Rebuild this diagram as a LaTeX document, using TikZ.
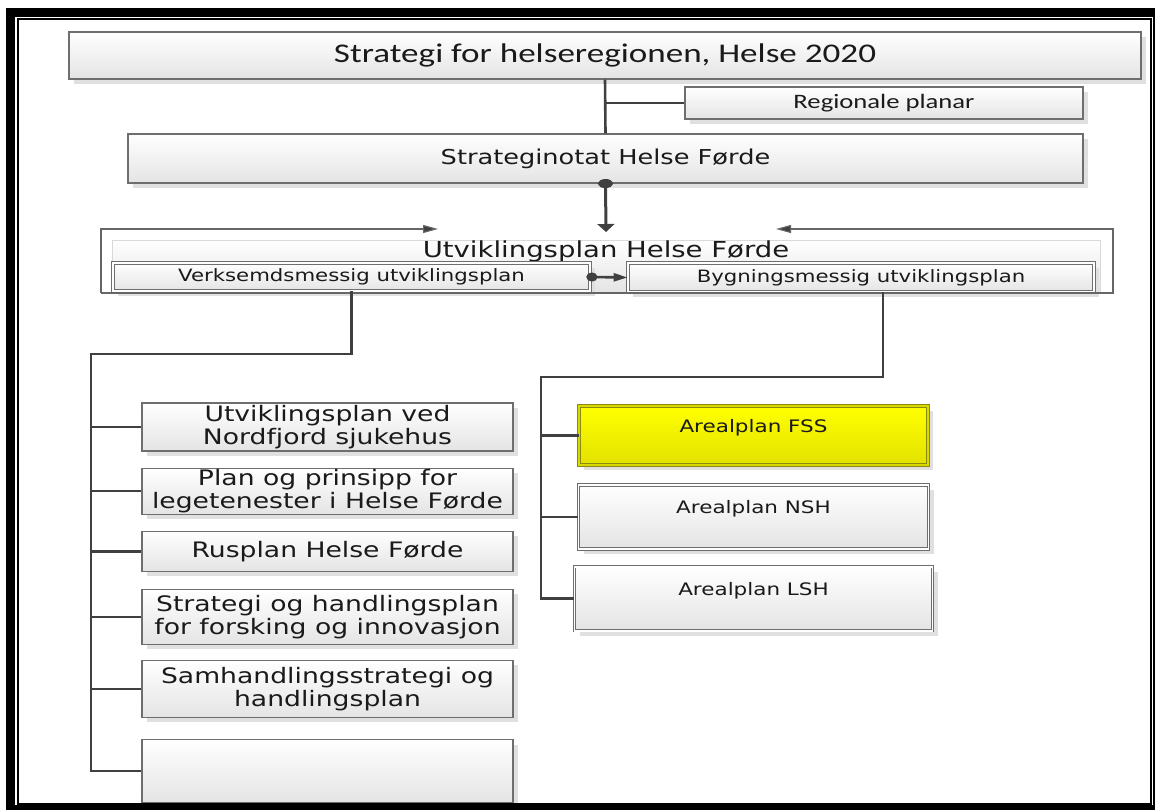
\documentclass[tikz,border=0pt]{standalone}
\usepackage{fontspec}
\newfontfamily\wfont[FakeStretch=1.25]{DejaVu Sans}
\newfontfamily\cfont[FakeStretch=1.3]{Carlito}
\usetikzlibrary{positioning,arrows.meta,shadows}

\definecolor{boxline}{HTML}{6E6E6E}
\definecolor{treeline}{HTML}{404040}
\definecolor{boxshade}{HTML}{E4E4E4}
\definecolor{fsstop}{HTML}{FFFF00}
\definecolor{fssbottom}{HTML}{E2E200}
\definecolor{fssline}{HTML}{8A8A10}
\definecolor{txt}{HTML}{1A1A1A}

\tikzset{
  planbox/.style={draw=boxline, line width=1.1pt, top color=white,
    bottom color=boxshade, inner sep=0pt, align=center, text=txt,
    drop shadow={shadow xshift=5pt, shadow yshift=-5pt, fill=black!12, opacity=1}},
  dualbox/.style={planbox, line width=0.8pt, double=white, double distance=1.8pt},
  areabox/.style={dualbox, text height=13pt, text depth=20pt,
    font=\wfont\fontsize{17.2}{20}\selectfont},
  listbox/.style={planbox, minimum width=371pt,
    font=\wfont\fontsize{21.3}{23}\selectfont},
  branch/.style={draw=treeline, line width=2.6pt},
  frameline/.style={draw=black!60, line width=1.1pt,
    -{Triangle[length=15pt,width=8pt,fill=treeline]}},
}

\begin{document}
\begin{tikzpicture}[x=1pt,y=-1pt]
  \useasboundingbox (0,0) rectangle (1155,810);

  % strategy levels
  \node[planbox, minimum width=1072pt, minimum height=47pt,
    font=\cfont\fontsize{27}{30}\selectfont] (helse) at (605,55.5)
    {Strategi for helseregionen, Helse 2020};
  \node[planbox, minimum width=398pt, minimum height=32pt,
    font=\cfont\fontsize{20.5}{22}\selectfont] (reg) at (884,103)
    {Regionale planar};
  \node[planbox, minimum width=955pt, minimum height=49pt,
    font=\wfont\fontsize{20.5}{23}\selectfont] (strat) at (605.5,158.5)
    {Strateginotat Helse Førde};

  \draw[branch] (helse.south) -- (strat.north);
  \draw[branch] (helse.south |- reg.west) -- (reg.west);

  % utviklingsplan
  \node[draw=black!15, line width=0.6pt, top color=white, bottom color=boxshade,
    minimum width=988pt, minimum height=52pt, inner sep=0pt, text=txt,
    text height=16pt, text depth=32pt,
    font=\wfont\fontsize{22}{24}\selectfont] (utv) at (606,266)
    {Utviklingsplan Helse Førde};
  \node[dualbox, minimum width=477pt, minimum height=28pt,
    font=\wfont\fontsize{17}{19}\selectfont] (verk) at (351.5,277)
    {Verksemdsmessig utviklingsplan};
  \node[dualbox, minimum width=466pt, minimum height=29pt,
    font=\wfont\fontsize{17}{19}\selectfont] (byg) at (861,277.5)
    {Bygningsmessig utviklingsplan};

  \coordinate (utvin) at (606,232);
  \draw[treeline, line width=3pt, shorten <=-4.5pt,
    {Circle[length=9pt,width=15pt]}-{Triangle[length=8pt,width=17pt]}]
    (strat.south) -- (utvin);
  \draw[treeline, line width=2.6pt, shorten <=-4pt,
    {Circle[length=11pt,width=9pt]}-{Triangle[length=14pt,width=8pt]}]
    (verk.east) -- (byg.west);

  \coordinate (fsw) at (101,293);
  \coordinate (fnw) at (101,229);
  \coordinate (fse) at (1113,293);
  \coordinate (fne) at (1113,229);
  \coordinate (fla) at (438,229);
  \coordinate (fra) at (776,229);
  \draw[frameline] (fsw) -- (fnw) -- (fla);
  \draw[frameline] (fsw) -- (fse) -- (fne) -- (fra);

  % verksemdsmessige planar
  \node[listbox, minimum height=48pt] (l1) at (327.5,427)
    {Utviklingsplan ved\\Nordfjord sjukehus};
  \node[listbox, minimum height=46pt] (l2) [below=16pt of l1]
    {Plan og prinsipp for\\legetenester i Helse Førde};
  \node[listbox, minimum height=40pt] (l3) [below=16pt of l2]
    {Rusplan Helse Førde};
  \node[listbox, minimum height=55pt] (l4) [below=17pt of l3]
    {Strategi og handlingsplan\\for forsking og innovasjon};
  \node[listbox, minimum height=57pt] (l5) [below=15pt of l4]
    {Samhandlingsstrategi og\\handlingsplan};
  \node[listbox, minimum height=63pt] (l6) [below=21pt of l5] {};

  \coordinate (ltop) at (91,354);
  \draw[branch] (verk.south) |- (ltop) -- (ltop |- l6.west) -- (l6.west);
  \foreach \n in {l1,l2,l3,l4,l5}
    \draw[branch] (ltop |- \n.west) -- (\n.west);

  % bygningsmessige planar
  \node[areabox, minimum width=349pt, minimum height=59pt,
    top color=fsstop, bottom color=fssbottom, draw=fssline,
    double=fsstop!85!black] (fss) at (753.5,435.5) {Arealplan FSS};
  \node[areabox, minimum width=350pt, minimum height=64pt] (nsh)
    [below=19pt of fss] {Arealplan NSH};
  \node[areabox, minimum width=358pt, minimum height=64pt] (lsh)
    [below=17pt of nsh] {Arealplan LSH};

  \coordinate (rjoin) at (883,377);
  \coordinate (rtop) at (541,377);
  \draw[branch] (byg.south -| rjoin) -- (rjoin) -- (rtop)
    -- (rtop |- lsh.west) -- (lsh.west);
  \foreach \n in {fss,nsh}
    \draw[branch] (rtop |- \n.west) -- (\n.west);

  % page frame
  \draw[line width=9pt] (10.5,12.5) rectangle (1157,809.5);
  \draw[line width=2pt] (18,19.5) rectangle (1150.5,803.5);

\end{tikzpicture}
\end{document}
